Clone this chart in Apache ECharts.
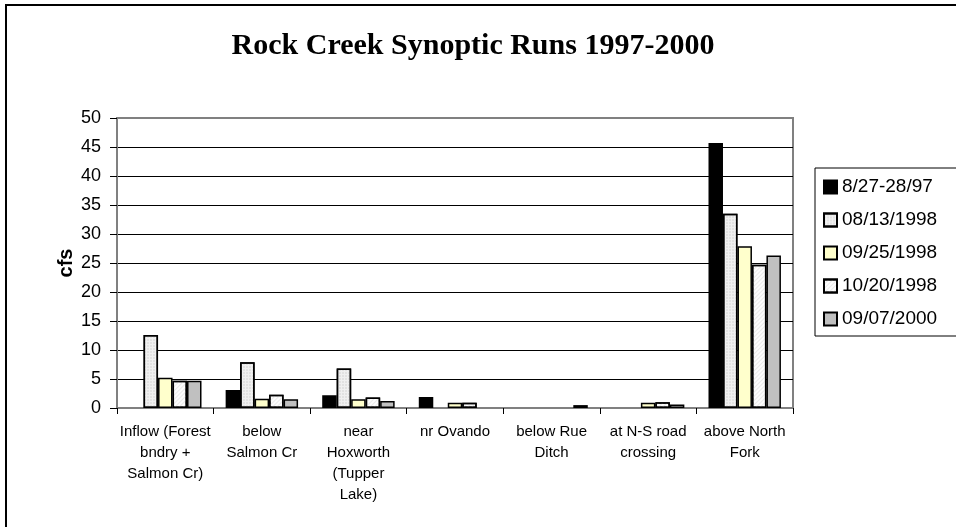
<!DOCTYPE html>
<html>
<head>
<meta charset="utf-8">
<script src="https://cdn.jsdelivr.net/npm/echarts@6/dist/echarts.min.js"></script>
<style>
  html, body { margin: 0; padding: 0; background: #fff; }
  #chart { width: 956px; height: 527px; }
</style>
</head>
<body>
<div id="chart"></div>
<script>
// sites along the creek (tick labels, already wrapped like the original)
var sites = [
    'Inflow (Forest\nbndry +\nSalmon Cr)',
    'below\nSalmon Cr',
    'near\nHoxworth\n(Tupper\nLake)',
    'nr Ovando',
    'below Rue\nDitch',
    'at N-S road\ncrossing',
    'above North\nFork'
];
var runNames = ['8/27-28/97', '08/13/1998', '09/25/1998', '10/20/1998', '09/07/2000'];
// flow in cfs per run, '-' = no measurement
var run1997 = ['-', 3.1, 2.2, 1.9, '-', '-', 45.7];
var run0813 = [12.6, 7.9, 6.8, '-', '-', '-', 33.5];
var run0925 = [5.2, 1.6, 1.5, 0.9, '-', 0.9, 27.9];
var run1020 = [4.7, 2.3, 1.8, 0.9, '-', 1.0, 24.7];
var run2000 = [4.7, 1.5, 1.2, '-', 0.5, 0.6, 26.3];
var yTicks = [0, 5, 10, 15, 20, 25, 30, 35, 40, 45, 50];

var fills = ['#000000', '#f0f0f0', '#ffffcc', '#fdfdfd', '#c0c0c0'];
var decals = [
    null,
    { symbol: 'rect', symbolSize: 0.6, color: 'rgba(160,160,160,0.55)', dashArrayX: [2, 1], dashArrayY: [2, 1] },
    null,
    { symbol: 'rect', symbolSize: 1, color: 'rgba(215,215,215,0.5)', rotation: -Math.PI / 4, dashArrayX: [1, 0], dashArrayY: [1, 2] },
    null
];
var values = [run1997, run0813, run0925, run1020, run2000];

var chart = echarts.init(document.getElementById('chart'));

var series = runNames.map(function (name, i) {
    var style = { color: fills[i], borderColor: '#000', borderWidth: 1.5 };
    if (decals[i]) style.decal = decals[i];
    return {
        name: name,
        type: 'bar',
        data: values[i],
        barGap: '0%',
        barCategoryGap: '25%',
        itemStyle: style
    };
});

chart.setOption({
    animation: false,
    title: {
        text: 'Rock Creek Synoptic Runs 1997-2000',
        left: 468,
        textAlign: 'center',
        top: 26,
        textStyle: { fontFamily: 'Liberation Serif', fontWeight: 'bold', fontSize: 30, color: '#000' }
    },
    legend: {
        orient: 'vertical',
        left: 815,
        top: 168,
        padding: [9, 40, 7, 8],
        itemGap: 13,
        itemWidth: 13,
        itemHeight: 13,
        icon: 'rect',
        borderColor: '#000',
        borderWidth: 1,
        textStyle: { fontFamily: 'Liberation Sans', fontSize: 19, color: '#000', lineHeight: 20, padding: [0, 0, 0, 0] },
        data: runNames
    },
    grid: { left: 117, right: 163, top: 118, bottom: 119, show: true, borderColor: '#808080', borderWidth: 2 },
    xAxis: {
        type: 'category',
        data: sites,
        axisLine: { lineStyle: { color: '#808080', width: 2 } },
        axisTick: { show: true, length: 6, lineStyle: { color: '#000' } },
        axisLabel: { fontFamily: 'Liberation Sans', fontSize: 15, lineHeight: 21, color: '#000', margin: 13, interval: 0 }
    },
    yAxis: {
        type: 'value',
        min: yTicks[0],
        max: yTicks[yTicks.length - 1],
        interval: 5,
        name: 'cfs',
        nameLocation: 'middle',
        nameGap: 41,
        nameMoveOverlap: false,
        nameTextStyle: { fontFamily: 'Liberation Sans', fontWeight: 'bold', fontSize: 20, color: '#000' },
        axisLine: { show: true, lineStyle: { color: '#808080', width: 2 } },
        axisTick: { show: true, length: 7, lineStyle: { color: '#000' } },
        axisLabel: { fontFamily: 'Liberation Sans', fontSize: 18, color: '#000', margin: 16 },
        splitLine: { showMaxLine: false, lineStyle: { color: '#000', width: 1 } }
    },
    graphic: [{
        type: 'polyline',
        shape: { points: [[6, 527], [6, 5], [956, 5]] },
        style: { fill: null, stroke: '#000', lineWidth: 2 },
        silent: true
    }],
    series: series
});
</script>
</body>
</html>
